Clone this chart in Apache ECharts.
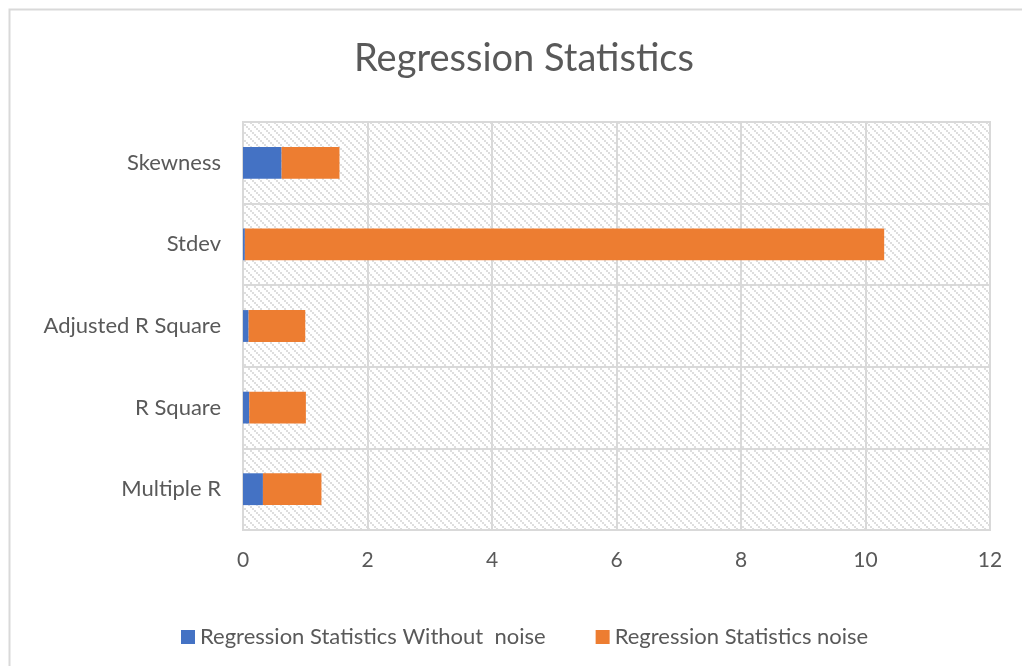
<!DOCTYPE html>
<html>
<head>
<meta charset="utf-8">
<script src="https://cdn.jsdelivr.net/npm/echarts@6/dist/echarts.min.js"></script>
<style>
  html, body { margin: 0; padding: 0; background: #fff; }
  #chart { width: 1022px; height: 666px; }
</style>
</head>
<body>
<div id="chart"></div>
<script>
// Statistics shown on the category axis, bottom to top
const categories = ['Multiple R', 'R Square', 'Adjusted R Square', 'Stdev', 'Skewness'];
// Values for the clean regression run
const withoutNoise = [0.32, 0.10, 0.09, 0.03, 0.62];
// Values for the noisy regression run (stacked after the clean values)
const withNoise = [0.94, 0.91, 0.91, 10.27, 0.93];
const seriesNames = ['Regression Statistics Without  noise', 'Regression Statistics noise'];
const xTicks = [0, 2, 4, 6, 8, 10, 12];

// Diagonal hatch tile for the plot background
function hatchTile() {
  const c = document.createElement('canvas');
  c.width = 8; c.height = 8;
  const g = c.getContext('2d');
  g.fillStyle = '#ffffff';
  g.fillRect(0, 0, 8, 8);
  g.fillStyle = '#dedede';
  for (let i = 0; i < 8; i += 2) {
    g.fillRect(i, i, 2, 2);
  }
  return c;
}

const chart = echarts.init(document.getElementById('chart'), null, { renderer: 'canvas' });
const textColor = '#595959';
const font = 'Lato';

chart.setOption({
  animation: false,
  backgroundColor: '#ffffff',
  graphic: [{
    type: 'rect',
    shape: { x: 9.5, y: 9.5, width: 1030, height: 670 },
    style: { fill: 'none', stroke: '#d9d9d9', lineWidth: 2 },
    silent: true
  }],
  title: {
    text: 'Regression Statistics',
    left: 349,
    top: 35,
    textStyle: { color: textColor, fontFamily: font, fontWeight: 'normal', fontSize: 38 }
  },
  legend: {
    left: 176,
    top: 621,
    itemWidth: 14,
    itemHeight: 14,
    itemGap: 50,
    icon: 'rect',
    textStyle: { color: textColor, fontFamily: font, fontSize: 22 },
    data: seriesNames
  },
  grid: {
    left: 243, right: 32, top: 122, bottom: 136,
    show: true,
    backgroundColor: { image: hatchTile(), repeat: 'repeat' },
    borderColor: '#d9d9d9',
    borderWidth: 2
  },
  xAxis: {
    type: 'value',
    min: xTicks[0],
    max: xTicks[xTicks.length - 1],
    interval: 2,
    axisLine: { show: false },
    axisTick: { show: false },
    axisLabel: { color: textColor, fontFamily: font, fontSize: 21, margin: 20 },
    splitLine: { lineStyle: { color: '#d9d9d9', width: 2 } }
  },
  yAxis: {
    type: 'category',
    data: categories,
    axisLine: { show: false },
    axisTick: { show: false },
    axisLabel: { color: textColor, fontFamily: font, fontSize: 22, margin: 22 },
    splitLine: { show: true, lineStyle: { color: '#d9d9d9', width: 2 } }
  },
  series: [
    {
      name: seriesNames[0],
      type: 'bar',
      stack: 'total',
      data: withoutNoise,
      barWidth: '39%',
      itemStyle: { color: '#4472C4' }
    },
    {
      name: seriesNames[1],
      type: 'bar',
      stack: 'total',
      data: withNoise,
      barWidth: '39%',
      itemStyle: { color: '#ED7D31' }
    }
  ]
});
</script>
</body>
</html>
